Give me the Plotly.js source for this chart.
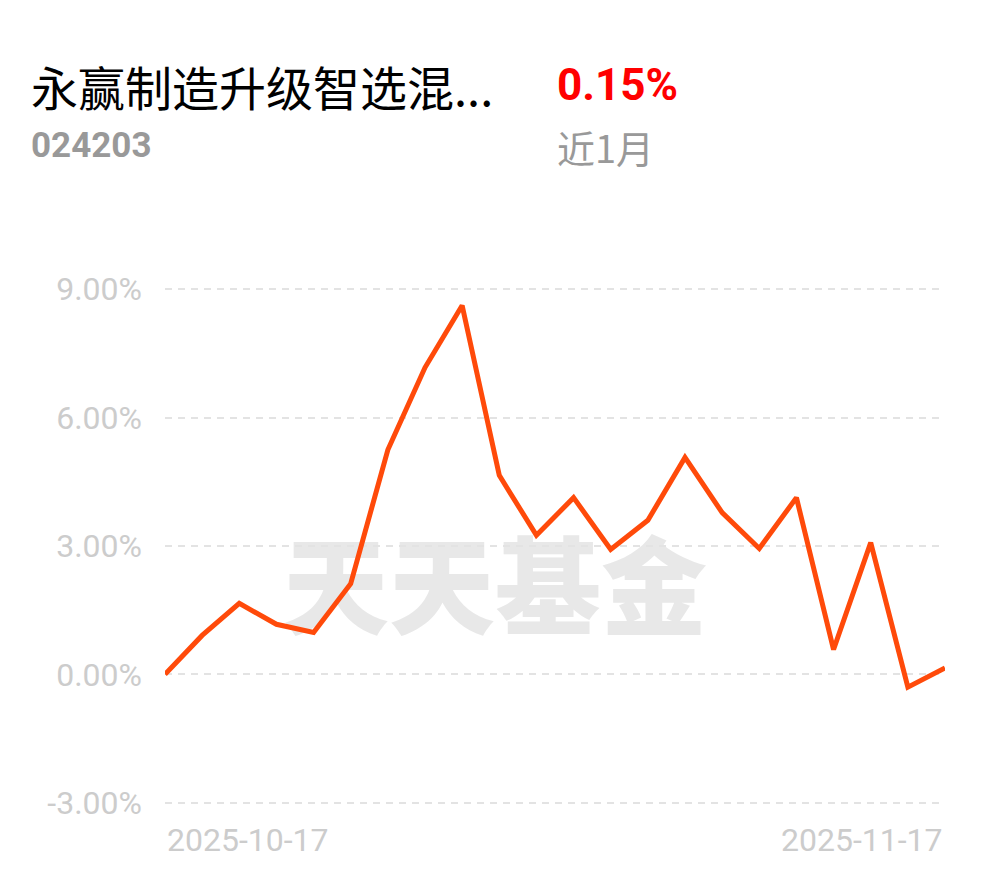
<!DOCTYPE html>
<html>
<head>
<meta charset="utf-8">
<script src="https://cdn.plot.ly/plotly-3.0.1.min.js"></script>
<style>html,body{margin:0;padding:0;background:#fff;}#chart{width:990px;height:878px;}</style>
</head>
<body>
<div id="chart"></div>
<script>
const fundName = "永赢制造升级智选混...";
const fundCode = "024203";
const periodLabel = "近1月";
const periodReturn = "0.15%";
const watermark = "天天基金";

const dates = ["2025-10-17","2025-10-20","2025-10-21","2025-10-22","2025-10-23","2025-10-24",
  "2025-10-27","2025-10-28","2025-10-29","2025-10-30","2025-10-31",
  "2025-11-03","2025-11-04","2025-11-05","2025-11-06","2025-11-07",
  "2025-11-10","2025-11-11","2025-11-12","2025-11-13","2025-11-14","2025-11-17"];
const returns = [0.00, 0.91, 1.66, 1.17, 0.98, 2.12,
  5.25, 7.17, 8.62, 4.65, 3.25,
  4.13, 2.92, 3.60, 5.07, 3.78,
  2.94, 4.13, 0.58, 3.08, -0.30, 0.15];
const yTicks = [-3, 0, 3, 6, 9];
const yTickText = ["-3.00%", "0.00%", "3.00%", "6.00%", "9.00%"];

const trace = {
  x: dates, y: returns, type: "scatter", mode: "lines",
  line: {color: "#ff4a0a", width: 5, shape: "linear"},
  hoverinfo: "skip"
};

const layout = {
  width: 990, height: 878,
  margin: {l: 165, r: 45, t: 285, b: 71, pad: 0},
  paper_bgcolor: "#ffffff", plot_bgcolor: "rgba(0,0,0,0)",
  showlegend: false,
  xaxis: {
    type: "category", categoryorder: "array", categoryarray: dates,
    range: [0, dates.length - 1],
    showticklabels: false, showgrid: false, zeroline: false, showline: false, ticks: ""
  },
  yaxis: {
    range: [-3.1, 9.1], tickvals: yTicks, ticktext: yTickText,
    showgrid: true, gridcolor: "#e3e3e3", gridwidth: 2, griddash: "7px,6px",
    zeroline: false, showline: false, ticks: "", ticklabelstandoff: 22,
    tickfont: {family: "Roboto, sans-serif", size: 32, color: "#cccccc"}
  },
  shapes: [{
    type: "rect", xref: "paper", yref: "paper", layer: "below",
    x0: 0.15, x1: 0.696, y0: 0.303, y1: 0.50,
    line: {width: 0}, fillcolor: "rgba(0,0,0,0)",
    label: {text: watermark, textposition: "middle center",
      font: {family: "Noto Sans CJK SC", size: 106, color: "#e8e8e8", weight: 900}}
  }],
  annotations: [
    {text: fundName, xref: "paper", yref: "paper", x: -0.174, y: 1.383, xanchor: "left", yanchor: "middle",
     showarrow: false, font: {family: "Noto Sans CJK SC", size: 47, color: "#000000"}},
    {text: "<b>" + periodReturn + "</b>", xref: "paper", yref: "paper", x: 0.5, y: 1.383, xanchor: "left", yanchor: "middle",
     showarrow: false, font: {family: "Roboto, sans-serif", size: 44, color: "#ff0000"}},
    {text: "<b>" + fundCode + "</b>", xref: "paper", yref: "paper", x: -0.174, y: 1.268, xanchor: "left", yanchor: "middle",
     showarrow: false, font: {family: "Roboto, sans-serif", size: 35, color: "#999999"}},
    {text: periodLabel, xref: "paper", yref: "paper", x: 0.5, y: 1.266, xanchor: "left", yanchor: "middle",
     showarrow: false, font: {family: "Noto Sans CJK SC", size: 38, color: "#999999"}},
    {text: dates[0], xref: "x", yref: "paper", x: dates[0], y: -0.063, xanchor: "left", yanchor: "middle",
     showarrow: false, font: {family: "Roboto, sans-serif", size: 32, color: "#cccccc"}},
    {text: dates[dates.length - 1], xref: "x", yref: "paper", x: dates[dates.length - 1], y: -0.063, xanchor: "right", yanchor: "middle",
     showarrow: false, font: {family: "Roboto, sans-serif", size: 32, color: "#cccccc"}}
  ]
};

Plotly.newPlot("chart", [trace], layout, {staticPlot: true, displayModeBar: false});
</script>
</body>
</html>
